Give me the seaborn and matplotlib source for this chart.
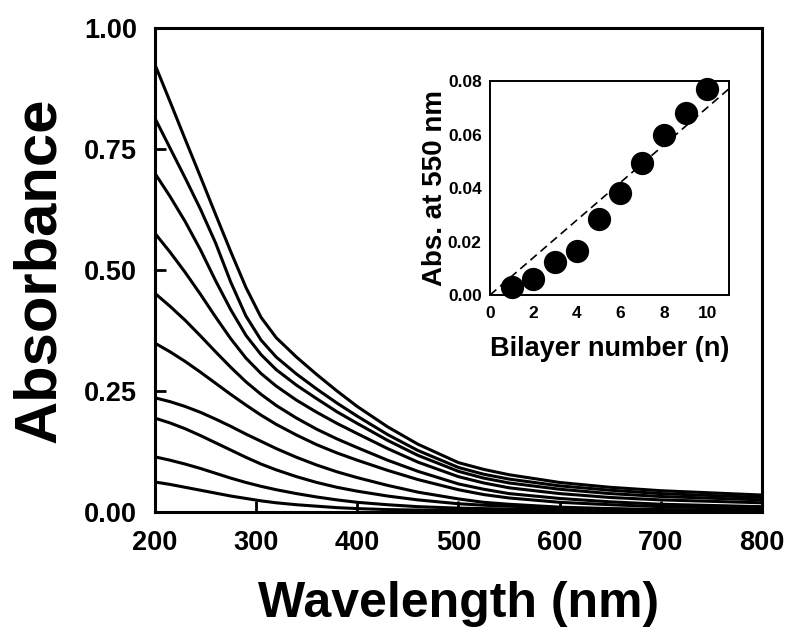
import pandas as pd
import seaborn as sns
import matplotlib.pyplot as plt

# wavelengths (nm)
wavelength = [200, 215, 230, 245, 260, 275, 290, 305, 320, 340, 360, 380, 400,
              430, 460, 500, 525, 550, 600, 650, 700, 800]

# absorbance spectra, one per bilayer number (n = 10 ... 1)
abs_n10 = [0.925, 0.848, 0.770, 0.693, 0.615, 0.538, 0.464, 0.402, 0.360, 0.320, 0.284, 0.250, 0.218,
           0.176, 0.140, 0.102, 0.088, 0.077, 0.061, 0.051, 0.044, 0.035]
abs_n9 = [0.814, 0.752, 0.690, 0.626, 0.556, 0.475, 0.405, 0.355, 0.320, 0.285, 0.254, 0.225, 0.198,
          0.160, 0.127, 0.092, 0.078, 0.068, 0.054, 0.045, 0.038, 0.030]
abs_n8 = [0.700, 0.652, 0.600, 0.542, 0.478, 0.418, 0.365, 0.325, 0.294, 0.262, 0.234, 0.207, 0.183,
          0.148, 0.117, 0.084, 0.070, 0.060, 0.047, 0.038, 0.032, 0.025]
abs_n7 = [0.576, 0.537, 0.495, 0.450, 0.403, 0.358, 0.318, 0.286, 0.260, 0.231, 0.206, 0.183, 0.162,
          0.131, 0.103, 0.073, 0.060, 0.050, 0.038, 0.030, 0.025, 0.019]
abs_n6 = [0.452, 0.425, 0.396, 0.364, 0.331, 0.299, 0.269, 0.243, 0.220, 0.194, 0.171, 0.151, 0.133,
          0.107, 0.084, 0.058, 0.047, 0.038, 0.028, 0.021, 0.016, 0.011]
abs_n5 = [0.349, 0.331, 0.311, 0.289, 0.266, 0.243, 0.221, 0.200, 0.181, 0.159, 0.139, 0.122, 0.107,
          0.086, 0.067, 0.046, 0.036, 0.029, 0.020, 0.015, 0.011, 0.007]
abs_n4 = [0.236, 0.228, 0.218, 0.206, 0.192, 0.177, 0.161, 0.146, 0.131, 0.113, 0.097, 0.083, 0.071,
          0.055, 0.041, 0.027, 0.020, 0.016, 0.010, 0.007, 0.005, 0.003]
abs_n3 = [0.194, 0.184, 0.172, 0.158, 0.143, 0.128, 0.113, 0.099, 0.087, 0.073, 0.061, 0.051, 0.043,
          0.033, 0.025, 0.017, 0.014, 0.012, 0.008, 0.006, 0.004, 0.002]
abs_n2 = [0.114, 0.107, 0.099, 0.090, 0.080, 0.070, 0.061, 0.053, 0.046, 0.038, 0.031, 0.025, 0.020,
          0.015, 0.011, 0.008, 0.007, 0.006, 0.004, 0.003, 0.002, 0.001]
abs_n1 = [0.062, 0.057, 0.051, 0.045, 0.039, 0.033, 0.028, 0.023, 0.019, 0.015, 0.012, 0.009, 0.007,
          0.005, 0.004, 0.003, 0.003, 0.003, 0.002, 0.001, 0.001, 0.000]

# inset: absorbance at 550 nm vs bilayer number, plus the dashed fit
bilayer = [1, 2, 3, 4, 5, 6, 7, 8, 9, 10]
abs550 = [0.003, 0.006, 0.0124, 0.0164, 0.0286, 0.0382, 0.0495, 0.060, 0.0682, 0.0771]
fit_x = [0, 11]
fit_y = [0.0, 0.0771]

spectra = {10: abs_n10, 9: abs_n9, 8: abs_n8, 7: abs_n7, 6: abs_n6,
           5: abs_n5, 4: abs_n4, 3: abs_n3, 2: abs_n2, 1: abs_n1}
df = pd.concat([pd.DataFrame({"wl": wavelength, "A": v, "n": k}) for k, v in spectra.items()])

sns.set_style("ticks")
plt.rcParams["font.family"] = ["Liberation Sans", "DejaVu Sans"]
plt.rcParams.update({"text.color": "black", "axes.labelcolor": "black",
                     "xtick.color": "black", "ytick.color": "black",
                     "axes.edgecolor": "black"})

fig = plt.figure(figsize=(7.9, 6.42), dpi=100)
ax = fig.add_axes([0.196, 0.2025, 0.7686, 0.7539])

sns.lineplot(data=df, x="wl", y="A", hue="n", palette=["black"] * 10,
             legend=False, lw=2.2, ax=ax, estimator=None)
ax.set_xlim(200, 800)
ax.set_ylim(0, 1.0)
ax.set_xticks([200, 300, 400, 500, 600, 700, 800])
ax.set_yticks([0, 0.25, 0.5, 0.75, 1.0])
ax.set_yticklabels(["0.00", "0.25", "0.50", "0.75", "1.00"])
ax.tick_params(direction="in", length=8, width=2, labelsize=19.5, pad=13)
for lbl in ax.get_xticklabels() + ax.get_yticklabels():
    lbl.set_fontweight("bold")
for s in ax.spines.values():
    s.set_linewidth(2.2)
ax.set_xlabel("Wavelength (nm)", fontsize=36, fontweight="bold", labelpad=18)
ax.set_ylabel("Absorbance", fontsize=43, fontweight="bold", labelpad=12)

# inset
ins = fig.add_axes([0.6203, 0.5405, 0.3025, 0.3333])
sns.lineplot(x=fit_x, y=fit_y, ax=ins, color="black", lw=1.2, linestyle=(0, (5, 3)))
sns.scatterplot(x=bilayer, y=abs550, ax=ins, color="black", s=240, edgecolor="black",
                zorder=3, clip_on=False)
ins.set_xlim(0, 11)
ins.set_ylim(0, 0.08)
ins.set_xticks([0, 2, 4, 6, 8, 10])
ins.set_yticks([0, 0.02, 0.04, 0.06, 0.08])
ins.set_yticklabels(["0.00", "0.02", "0.04", "0.06", "0.08"])
ins.tick_params(axis="x", direction="in", length=0, labelsize=12.5, pad=8)
ins.tick_params(axis="y", direction="in", length=0, labelsize=12.5, pad=6)
for lbl in ins.get_xticklabels() + ins.get_yticklabels():
    lbl.set_fontweight("bold")
for s in ins.spines.values():
    s.set_linewidth(1.4)
ins.set_xlabel("Bilayer number (n)", fontsize=19.5, fontweight="bold", labelpad=11)
ins.set_ylabel("Abs. at 550 nm", fontsize=20, fontweight="bold", labelpad=0)

fig.savefig("out.png", dpi=100)
